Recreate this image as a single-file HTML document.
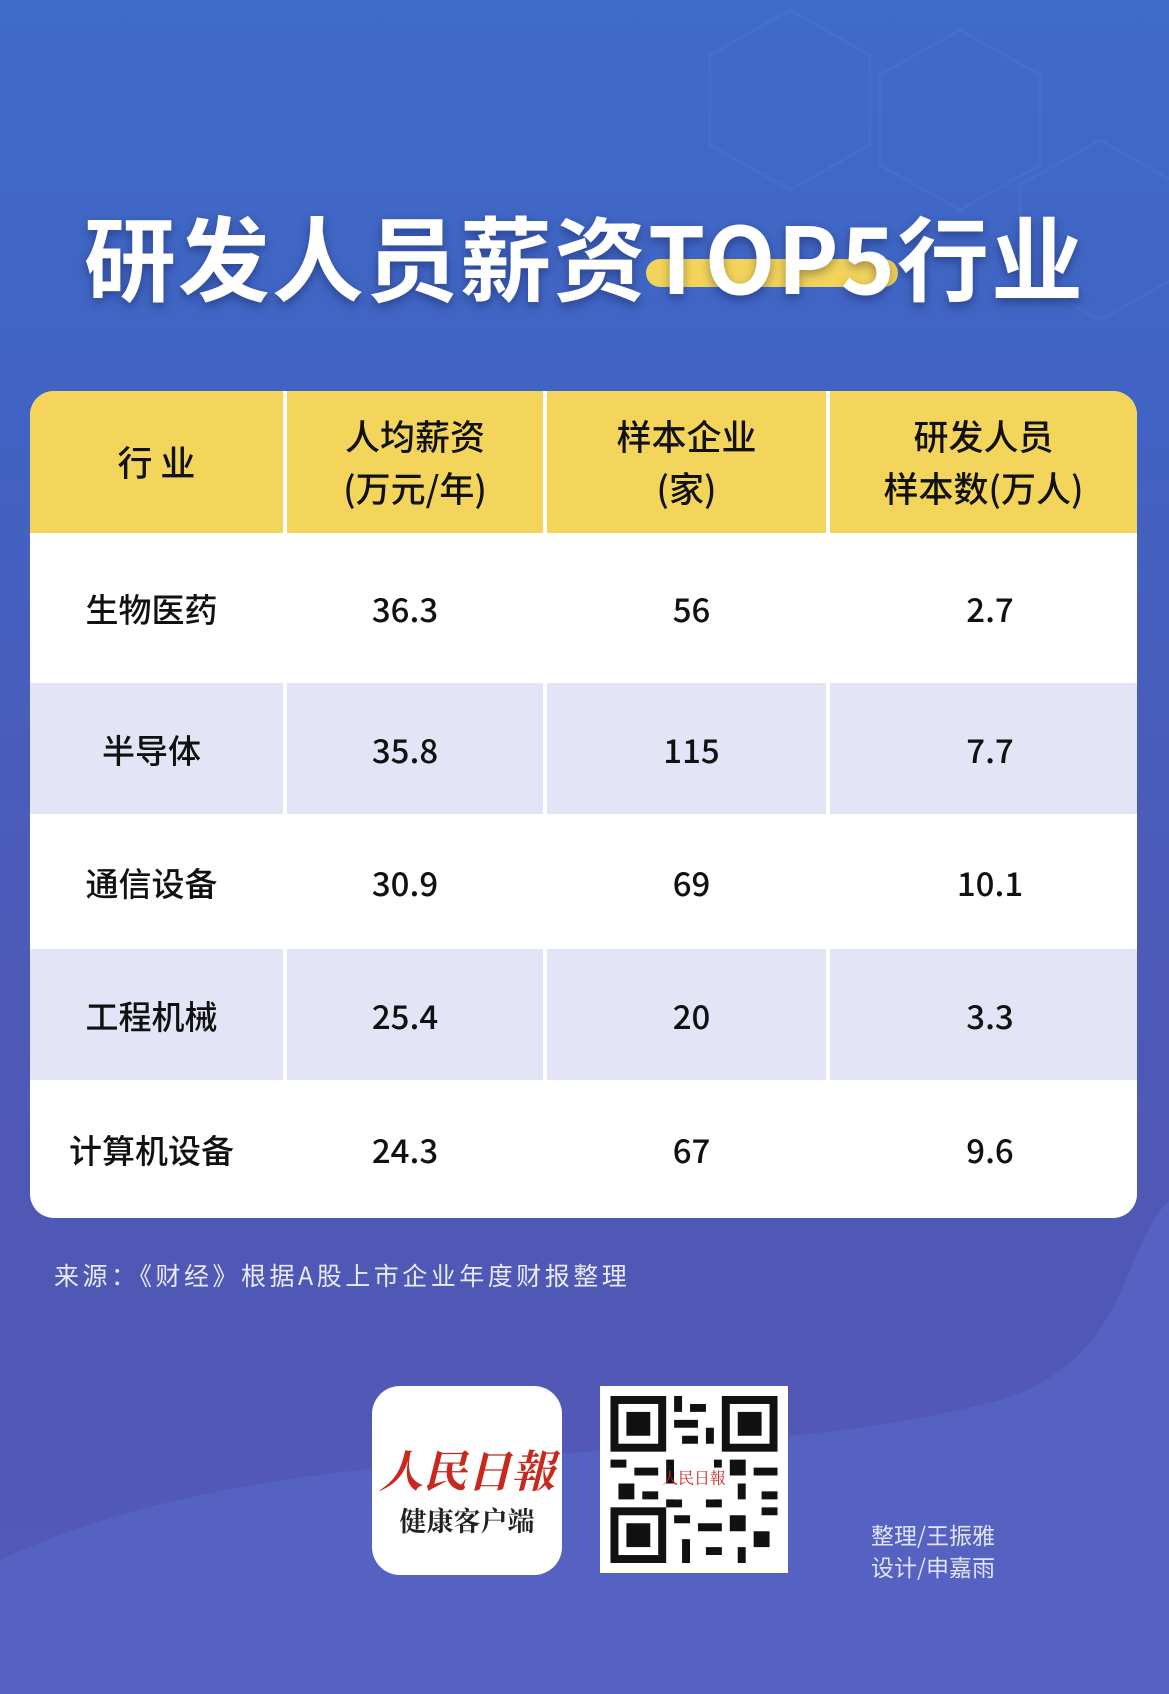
<!DOCTYPE html>
<html><head><meta charset="utf-8"><style>
body{margin:0;width:1169px;height:1694px;overflow:hidden;font-family:"Liberation Sans","Noto Sans CJK SC",sans-serif;}
#bg{position:absolute;left:0;top:0;width:1169px;height:1694px;background:linear-gradient(180deg,#3f6bc9 0%,#4163c3 25%,#4a5cba 45%,#5058b6 70%,#5259b6 100%);}
.title{position:absolute;left:0;width:1169px;top:188px;text-align:center;font-size:92px;font-weight:bold;color:#fff;letter-spacing:2px;text-shadow:0 4px 10px rgba(0,0,40,.35);font-family:"Noto Sans CJK SC",sans-serif;}
.pill{position:absolute;left:646px;top:259px;width:252px;height:28px;border-radius:14px;background:#f3d45a;}
.table{position:absolute;left:30px;top:391px;width:1107px;height:827px;border-radius:24px;overflow:hidden;background:#fff;}
.cell{position:absolute;display:flex;align-items:center;justify-content:center;text-align:center;color:#111;}
.hd{background:#f4d55c;font-size:35px;line-height:1.5;font-weight:500;font-family:"Noto Sans CJK SC",sans-serif;}
.bd{font-size:33px;font-weight:500;font-family:"Noto Sans CJK SC",sans-serif;}
.alt{background:#e3e5f6;}
</style></head><body>
<div id="bg"></div>
<svg style="position:absolute;left:0;top:0" width="1169" height="1694">
<g fill="none" stroke="rgba(255,255,255,0.035)" stroke-width="3">
<polygon points="790,10 870,55 870,145 790,190 710,145 710,55"/>
<polygon points="960,30 1040,75 1040,165 960,210 880,165 880,75"/>
<polygon points="1100,140 1180,185 1180,275 1100,320 1020,275 1020,185"/>
</g>
<path d="M0,1560 C300,1420 700,1480 1000,1400 C1130,1360 1120,1250 1169,1200 L1169,1694 L0,1694Z" fill="#5966c6" opacity="0.7"/>
</svg>
<div class="pill"></div>
<div class="title">研发人员薪资TOP5行业</div>
<div class="table">
<div class="cell hd" style="left:0;top:0;width:253px;height:142px">行 业</div>
<div class="cell hd" style="left:257px;top:0;width:256px;height:142px">人均薪资<br>(万元/年)</div>
<div class="cell hd" style="left:517px;top:0;width:279px;height:142px">样本企业<br>(家)</div>
<div class="cell hd" style="left:800px;top:0;width:307px;height:142px">研发人员<br>样本数(万人)</div>

<div class="cell bd" style="left:0;top:142px;width:243px;height:150px">生物医药</div>
<div class="cell bd" style="left:257px;top:142px;width:236px;height:150px">36.3</div>
<div class="cell bd" style="left:517px;top:142px;width:289px;height:150px">56</div>
<div class="cell bd" style="left:800px;top:142px;width:320px;height:150px">2.7</div>

<div class="cell bd alt" style="left:0;top:292px;width:253px;height:131px;padding-right:10px;box-sizing:border-box">半导体</div>
<div class="cell bd alt" style="left:257px;top:292px;width:256px;height:131px;padding-right:20px;box-sizing:border-box">35.8</div>
<div class="cell bd alt" style="left:517px;top:292px;width:279px;height:131px;padding-left:10px;box-sizing:border-box">115</div>
<div class="cell bd alt" style="left:800px;top:292px;width:307px;height:131px;padding-left:13px;box-sizing:border-box">7.7</div>

<div class="cell bd" style="left:0;top:423px;width:243px;height:135px">通信设备</div>
<div class="cell bd" style="left:257px;top:423px;width:236px;height:135px">30.9</div>
<div class="cell bd" style="left:517px;top:423px;width:289px;height:135px">69</div>
<div class="cell bd" style="left:800px;top:423px;width:320px;height:135px">10.1</div>

<div class="cell bd alt" style="left:0;top:558px;width:253px;height:131px;padding-right:10px;box-sizing:border-box">工程机械</div>
<div class="cell bd alt" style="left:257px;top:558px;width:256px;height:131px;padding-right:20px;box-sizing:border-box">25.4</div>
<div class="cell bd alt" style="left:517px;top:558px;width:279px;height:131px;padding-left:10px;box-sizing:border-box">20</div>
<div class="cell bd alt" style="left:800px;top:558px;width:307px;height:131px;padding-left:13px;box-sizing:border-box">3.3</div>

<div class="cell bd" style="left:0;top:689px;width:243px;height:138px">计算机设备</div>
<div class="cell bd" style="left:257px;top:689px;width:236px;height:138px">24.3</div>
<div class="cell bd" style="left:517px;top:689px;width:289px;height:138px">67</div>
<div class="cell bd" style="left:800px;top:689px;width:320px;height:138px">9.6</div>
</div>
<div style="position:absolute;left:54px;top:1257px;font-size:25px;letter-spacing:3.5px;color:#e8eaf8;font-family:'Noto Sans CJK SC',sans-serif">来源：《财经》根据A股上市企业年度财报整理</div>
<div style="position:absolute;left:372px;top:1386px;width:190px;height:189px;border-radius:28px;background:#fff;text-align:center">
<div style="margin-top:50px;font-size:44px;color:#c8281e;font-style:italic;font-weight:bold;font-family:'Noto Serif CJK SC',serif">人民日報</div>
<div style="font-size:27px;font-weight:bold;color:#222;font-family:'Noto Serif CJK SC',serif">健康客户端</div>
</div>
<div style="position:absolute;left:600px;top:1386px;width:188px;height:187px;background:#fff"></div>
<svg style="position:absolute;left:610px;top:1396px" width="168" height="167" viewBox="0 0 21 21">
<rect width="21" height="21" fill="#fff"/>
<g fill="#111">
<rect x="0" y="0" width="7" height="7"/><rect x="14" y="0" width="7" height="7"/><rect x="0" y="14" width="7" height="7"/>
</g>
<g fill="#fff"><rect x="1" y="1" width="5" height="5"/><rect x="15" y="1" width="5" height="5"/><rect x="1" y="15" width="5" height="5"/></g>
<g fill="#111"><rect x="2" y="2" width="3" height="3"/><rect x="16" y="2" width="3" height="3"/><rect x="2" y="16" width="3" height="3"/>
<path d="M8 0h1v2h-1zM10 1h2v1h-2zM8 3h3v1h-3zM12 4h1v2h-1zM9 5h2v1h-2zM0 8h2v1h-2zM3 9h3v1h-3zM1 11h2v2h-2zM4 12h2v1h-2zM15 8h2v2h-2zM18 9h3v1h-3zM16 11h1v2h-1zM19 12h2v1h-2zM8 15h2v1h-2zM11 16h3v1h-3zM9 18h1v3h-1zM12 19h2v1h-2zM15 15h2v2h-2zM18 17h2v2h-2zM16 19h1v2h-1zM13 8h1v1h-1zM7 13h2v1h-2zM12 13h2v1h-2zM19 14h2v1h-2zM7 8h1v3h-1z"/></g>
<rect x="8" y="8" width="5" height="5" fill="#fff"/>
<text x="10.5" y="11" font-size="2" text-anchor="middle" fill="#c8281e" font-family="Noto Serif CJK SC">人民日報</text>
</svg>
<div style="position:absolute;left:871px;top:1518px;font-size:23px;line-height:32px;color:#e0e3f6;font-family:'Noto Sans CJK SC',sans-serif">整理/王振雅<br>设计/申嘉雨</div>
</body></html>
